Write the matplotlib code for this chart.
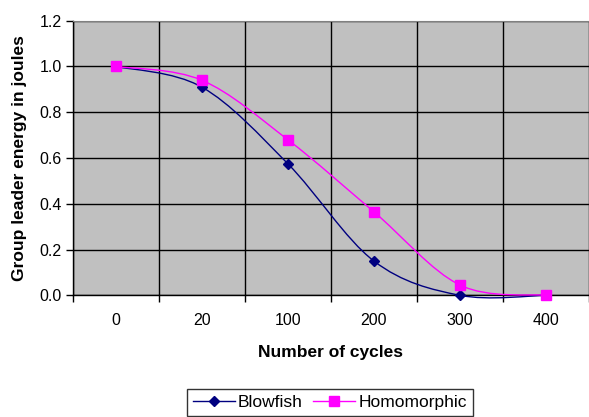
import numpy as np
import matplotlib.pyplot as plt
from matplotlib.path import Path
from matplotlib.patches import PathPatch

plt.rcParams['font.family'] = ['Liberation Sans', 'DejaVu Sans']

cycles = ["0", "20", "100", "200", "300", "400"]
blowfish = [1.0, 0.91, 0.575, 0.15, 0.0, 0.0]
homomorphic = [1.0, 0.94, 0.68, 0.365, 0.045, 0.0]

blowfishColor = "#000080"
homomorphicColor = "#FF00FF"


def smoothPath(xs, ys):
    # excel style smoothed line: cubic bezier with control points at 1/6 of neighbour span
    pts = np.column_stack([xs, ys]).astype(float)
    n = len(pts)
    verts = [pts[0]]
    codes = [Path.MOVETO]
    for i in range(n - 1):
        p0 = pts[max(i - 1, 0)]
        p1 = pts[i]
        p2 = pts[i + 1]
        p3 = pts[min(i + 2, n - 1)]
        c1 = p1 + (p2 - p0) / 6.0
        c2 = p2 - (p3 - p1) / 6.0
        verts += [c1, c2, p2]
        codes += [Path.CURVE4] * 3
    return Path(verts, codes)


def main():
    fig = plt.figure(figsize=(5.89, 4.17), dpi=100)
    ax = fig.add_axes([0.1234, 0.2918, 0.8766, 0.6586])
    ax.set_facecolor("#C0C0C0")

    x = np.arange(len(cycles))
    series = [(blowfish, blowfishColor, "D", 4.8, "Blowfish", 3),
              (homomorphic, homomorphicColor, "s", 6.5, "Homomorphic", 5)]
    for ys, col, mk, ms, name, z in series:
        patch = PathPatch(smoothPath(x, ys), facecolor="none", edgecolor=col, lw=1.0,
                          zorder=z, clip_on=False)
        ax.add_patch(patch)
        ax.plot(x, ys, linestyle="none", marker=mk, markersize=ms, color=col, zorder=z + 0.5,
                clip_on=False)
        ax.plot([], [], color=col, marker=mk, markersize=ms, lw=1.0, label=name)

    ax.set_xlim(-0.5, len(cycles) - 0.5)
    ax.set_ylim(0, 1.2)
    ax.set_yticks(np.arange(0, 1.21, 0.2))
    ax.set_yticklabels([f"{v:.1f}" for v in np.arange(0, 1.21, 0.2)])
    ax.set_xticks(x)
    ax.set_xticklabels(cycles)
    ax.set_xticks(np.arange(-0.5, len(cycles)), minor=True)
    ax.tick_params(axis="x", which="major", length=0, pad=13, labelsize=11.5)
    ax.tick_params(axis="x", which="minor", length=5, width=1, direction="out")
    ax.tick_params(axis="y", length=5, width=1, direction="out", labelsize=11.5, pad=3)
    ax.grid(True, axis="x", which="minor", color="black", lw=1.0)
    ax.grid(True, axis="y", which="major", color="black", lw=1.0)
    ax.set_axisbelow(True)

    for s in ["top", "right"]:
        ax.spines[s].set_color("#808080")
    for s in ["left", "bottom"]:
        ax.spines[s].set_color("black")
        ax.spines[s].set_linewidth(1.0)

    ax.set_xlabel("Number of cycles", fontsize=12.5, fontweight="bold", labelpad=12)
    ax.set_ylabel("Group leader energy in joules", fontsize=12.5, fontweight="bold", labelpad=9)

    leg = fig.legend(loc="upper center", bbox_to_anchor=(0.5603, 0.067), ncol=2,
                     frameon=True, fancybox=False, edgecolor="black", fontsize=12.5,
                     handlelength=2.4, columnspacing=0.6, handletextpad=0.2, borderpad=0.35,
                     borderaxespad=0)
    leg.get_frame().set_linewidth(1.0)

    fig.savefig("out.png", dpi=100)


if __name__ == "__main__":
    main()
